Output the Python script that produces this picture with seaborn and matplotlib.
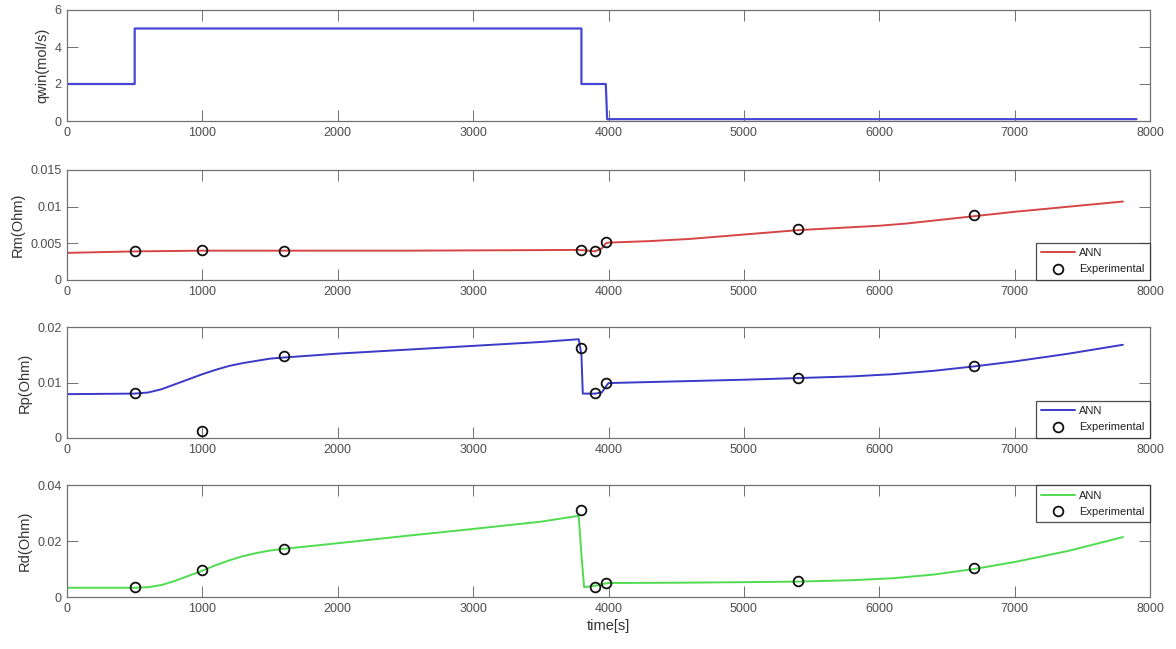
import numpy as np
import pandas as pd
import matplotlib
matplotlib.use("Agg")
import matplotlib.pyplot as plt
import seaborn as sns

# ---- inlet flow profile (step input) ----
qwin_t = [0, 500, 500, 3800, 3800, 3980, 3990, 7900]
qwin_v = [2, 2, 5, 5, 2, 2, 0.1, 0.1]

# ---- experimental sample times ----
exp_t = [500, 1000, 1600, 3800, 3900, 3980, 5400, 6700]

# ---- membrane resistance Rm ----
rm_ann_t = [0, 500, 1000, 1600, 2500, 3780, 3850, 3900, 3950, 3980, 4000, 4300, 4600, 4800, 5000, 5200, 5400,
            5700, 6000, 6200, 6400, 6700, 7000, 7400, 7800]
rm_ann_v = [0.0037, 0.0039, 0.0040, 0.0040, 0.0040, 0.0041, 0.0040, 0.0039, 0.0043, 0.0050, 0.0051, 0.0053, 0.0056,
            0.0059, 0.0062, 0.0065, 0.0068, 0.0071, 0.0074, 0.0077, 0.0081, 0.0087, 0.0093, 0.0100, 0.0107]
rm_exp_v = [0.0039, 0.0041, 0.0040, 0.0041, 0.0039, 0.0052, 0.0069, 0.0088]

# ---- polarisation resistance Rp ----
rp_ann_t = [0, 500, 600, 700, 800, 900, 1000, 1100, 1200, 1300, 1400, 1500, 1600, 2000, 2500, 3000, 3500, 3780,
            3800, 3810, 3900, 3950, 3990, 4000, 4500, 5000, 5400, 5800, 6100, 6400, 6700, 7000, 7400, 7800]
rp_ann_v = [0.0079, 0.0080, 0.0082, 0.0088, 0.0097, 0.0106, 0.0115, 0.0123, 0.0130, 0.0135, 0.0139, 0.0143, 0.0145,
            0.0152, 0.0159, 0.0166, 0.0173, 0.0178, 0.0150, 0.0080, 0.0080, 0.0082, 0.0096, 0.0099, 0.0102, 0.0105,
            0.0108, 0.0111, 0.0115, 0.0121, 0.0129, 0.0138, 0.0152, 0.0168]
rp_exp_v = [0.0081, 0.0013, 0.0147, 0.0163, 0.0081, 0.0099, 0.0109, 0.0130]

# ---- diffusion resistance Rd ----
rd_ann_t = [0, 500, 600, 700, 800, 900, 1000, 1100, 1200, 1300, 1400, 1500, 1600, 2000, 2500, 3000, 3500, 3780,
            3800, 3820, 3900, 3950, 4000, 4500, 5000, 5400, 5800, 6100, 6400, 6700, 7000, 7400, 7800]
rd_ann_v = [0.0033, 0.0033, 0.0035, 0.0043, 0.0058, 0.0076, 0.0094, 0.0114, 0.0131, 0.0146, 0.0157, 0.0166, 0.0172,
            0.0192, 0.0218, 0.0243, 0.0269, 0.0290, 0.0150, 0.0035, 0.0040, 0.0046, 0.0050, 0.0051, 0.0053, 0.0055,
            0.0060, 0.0067, 0.0080, 0.0100, 0.0125, 0.0165, 0.0214]
rd_exp_v = [0.0035, 0.0095, 0.0172, 0.0310, 0.0035, 0.0050, 0.0057, 0.0105]

sns.set_theme(style="white")
plt.rcParams['font.family'] = ['Liberation Sans', 'DejaVu Sans']

fig = plt.figure(figsize=(11.76, 6.49), dpi=100)

W, H = 1176, 649
left, right = 67, 1150
panels = [(10, 121), (170, 280), (327, 438), (485, 597)]
axes = []
for top, bot in panels:
    ax = fig.add_axes([left / W, 1 - bot / H, (right - left) / W, (bot - top) / H])
    axes.append(ax)

GRAY = "#4d4d4d"


def style(ax, ylim, yticks, yticklabels, ylabel):
    ax.set_xlim(0, 8000)
    ax.set_xticks(np.arange(0, 8001, 1000))
    ax.set_xticklabels([str(v) for v in range(0, 8001, 1000)])
    ax.set_ylim(*ylim)
    ax.set_yticks(yticks)
    ax.set_yticklabels(yticklabels)
    ax.set_ylabel(ylabel, fontsize=10.5, color="#333333", labelpad=4)
    ax.set_xlabel("")
    ax.tick_params(direction="in", length=8, width=0.7, color="#707070",
                   labelcolor=GRAY, labelsize=9, top=True, right=True,
                   bottom=True, left=True, pad=4)
    for sp in ax.spines.values():
        sp.set_color("#707070")
        sp.set_linewidth(0.9)


# qwin
sns.lineplot(x=qwin_t, y=qwin_v, ax=axes[0], color="#4646d6", linewidth=1.6,
             sort=False, estimator=None)
style(axes[0], (0, 6), [0, 2, 4, 6], ["0", "2", "4", "6"], "qwin(mol/s)")

series = [
    (axes[1], rm_ann_t, rm_ann_v, rm_exp_v, "#d64545", (0, 0.015),
     [0, 0.005, 0.01, 0.015], ["0", "0.005", "0.01", "0.015"], "Rm(Ohm)", "lower right"),
    (axes[2], rp_ann_t, rp_ann_v, rp_exp_v, "#3a3ac8", (0, 0.02),
     [0, 0.01, 0.02], ["0", "0.01", "0.02"], "Rp(Ohm)", "lower right"),
    (axes[3], rd_ann_t, rd_ann_v, rd_exp_v, "#4fdc4f", (0, 0.04),
     [0, 0.02, 0.04], ["0", "0.02", "0.04"], "Rd(Ohm)", "upper right"),
]

for ax, tt, vv, ev, col, yl, yt, ytl, lab, loc in series:
    ann = pd.DataFrame({"t": tt, "v": vv})
    exp = pd.DataFrame({"t": exp_t, "v": ev})
    sns.lineplot(data=ann, x="t", y="v", ax=ax, color=col, linewidth=1.4,
                 sort=False, estimator=None, label="ANN")
    sns.lineplot(data=exp, x="t", y="v", ax=ax, linestyle="", marker="o",
                 markersize=7, markerfacecolor="none", markeredgecolor="#111111",
                 markeredgewidth=1.3, color="#111111", estimator=None,
                 label="Experimental")
    style(ax, yl, yt, ytl, lab)
    leg = ax.legend(loc=loc, fontsize=8, frameon=True, fancybox=False,
                    borderpad=0.5, labelspacing=0.55, handlelength=3.0,
                    handletextpad=0.4, borderaxespad=0.0)
    leg.get_frame().set_edgecolor("#222222")
    leg.get_frame().set_linewidth(0.9)
    for txt in leg.get_texts():
        txt.set_color("#222222")

axes[3].set_xlabel("time[s]", fontsize=10.5, color="#333333", labelpad=3)

fig.savefig("out.png", dpi=100, facecolor="white")
